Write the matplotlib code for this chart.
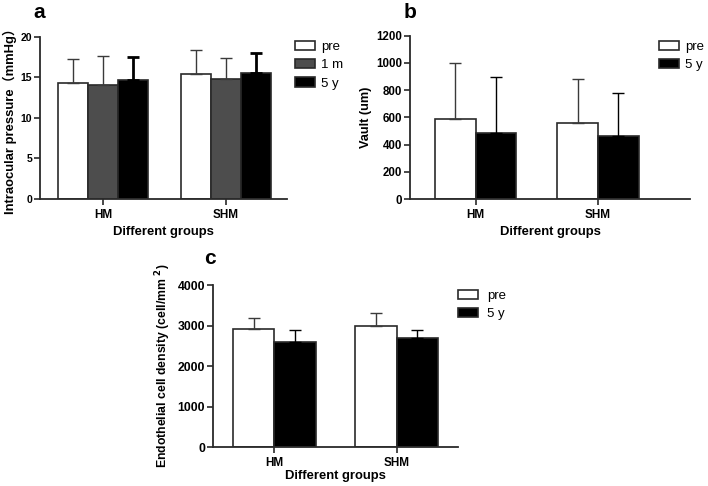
import matplotlib
matplotlib.use("Agg")
import matplotlib.pyplot as plt
import numpy as np

plt.rcParams['font.family'] = ['Liberation Sans', 'Noto Sans CJK SC', 'DejaVu Sans']
plt.rcParams['font.weight'] = 'bold'
plt.rcParams['mathtext.default'] = 'bf'

groups = ["HM", "SHM"]

# Panel a: intraocular pressure
iop_series = ["pre", "1 m", "5 y"]
iop_mean = {"pre": [14.3, 15.4], "1 m": [14.1, 14.8], "5 y": [14.65, 15.5]}
iop_sd = {"pre": [2.95, 3.0], "1 m": [3.5, 2.6], "5 y": [2.85, 2.45]}
iop_ticks = [0, 5, 10, 15, 20]

# Panel b: vault
vault_series = ["pre", "5 y"]
vault_mean = {"pre": [585, 561], "5 y": [482, 465]}
vault_sd = {"pre": [416, 323], "5 y": [412, 312]}
vault_ticks = [0, 200, 400, 600, 800, 1000, 1200]

# Panel c: endothelial cell density
ecd_series = ["pre", "5 y"]
ecd_mean = {"pre": [2909, 2997], "5 y": [2588, 2687]}
ecd_sd = {"pre": [286, 306], "5 y": [296, 204]}
ecd_ticks = [0, 1000, 2000, 3000, 4000]

colors = {"pre": "#ffffff", "1 m": "#4d4d4d", "5 y": "#000000"}
errcol = {"pre": "#3a3a3a", "1 m": "#3a3a3a", "5 y": "#000000"}

fig = plt.figure(figsize=(7.08, 4.86), dpi=100)
W, H = 708, 486

def add_ax(left, top, right, bottom):
    return fig.add_axes([left / W, 1 - bottom / H, (right - left) / W, (bottom - top) / H])

def draw(ax, series, mean, sd, width, ticks, xlim, ylabel, ticksize, labsize, thick5y, xlpad):
    x = np.arange(len(groups))
    n = len(series)
    handles = []
    for i, s in enumerate(series):
        off = (i - (n - 1) / 2) * width
        b = ax.bar(x + off, mean[s], width, color=colors[s], edgecolor="#2a2a2a",
                   linewidth=1.2, zorder=2, label=s)
        lw = 2.0 if (thick5y and s == "5 y") else 1.0
        ax.errorbar(x + off, mean[s], yerr=[np.zeros(len(groups)), sd[s]], fmt="none",
                    ecolor=errcol[s], elinewidth=lw, capsize=4.3,
                    capthick=lw, zorder=3)
        handles.append(b)
    ax.set_xlim(*xlim)
    ax.set_ylim(ticks[0], ticks[-1])
    ax.set_yticks(ticks)
    ax.set_xticks(x)
    ax.set_xticklabels(groups)
    for sp in ["top", "right"]:
        ax.spines[sp].set_visible(False)
    for sp in ["left", "bottom"]:
        ax.spines[sp].set_linewidth(1.3)
        ax.spines[sp].set_color("#2a2a2a")
    ax.tick_params(axis="both", length=4, width=1.2, color="#2a2a2a", labelsize=ticksize, pad=1.5)
    ax.tick_params(axis="x", labelsize=8.5, pad=3)
    for t in ax.get_xticklabels() + ax.get_yticklabels():
        t.set_fontweight("bold")
    ax.set_xlabel("Different groups", fontsize=9.4, fontweight="bold", labelpad=xlpad)
    ax.set_ylabel(ylabel, fontsize=labsize, fontweight="bold", labelpad=3)
    return handles

def legend(handles, labels, x, y, pad):
    leg = fig.legend(handles, labels, loc="upper left", bbox_to_anchor=(x / W, 1 - y / H),
                     frameon=False, fontsize=9.5, handlelength=1.5, handleheight=0.7,
                     handletextpad=pad, labelspacing=0.45, borderpad=0, borderaxespad=0)
    for t in leg.get_texts():
        t.set_fontweight("normal")

axa = add_ax(40, 36.7, 287, 199)
ha = draw(axa, iop_series, iop_mean, iop_sd, 0.244, iop_ticks, (-0.512, 1.496),
          "Intraocular pressure（mmHg）", 7.5, 9.4, True, 4)
legend(ha, iop_series, 295, 41, 0.5)

axb = add_ax(410, 35.7, 690, 199)
hb = draw(axb, vault_series, vault_mean, vault_sd, 0.333, vault_ticks, (-0.537, 1.752),
          "Vault (um)", 8.3, 9.2, False, 4)
legend(hb, vault_series, 659, 41, 0.45)

axc = add_ax(212.7, 285, 458, 447.3)
hc = draw(axc, ecd_series, ecd_mean, ecd_sd, 0.337, ecd_ticks, (-0.503, 1.501),
          r"Endothelial cell density (cell/mm $^{2}$)", 8.8, 8.8, False, 0.5)
legend(hc, ecd_series, 458, 290, 0.7)

fig.text(33 / W, 1 - 3 / H, "a", fontsize=15, fontweight="bold", va="top", ha="left")
fig.text(404 / W, 1 - 3 / H, "b", fontsize=15, fontweight="bold", va="top", ha="left")
fig.text(204 / W, 1 - 249 / H, "c", fontsize=15, fontweight="bold", va="top", ha="left")

fig.savefig("out.png", dpi=100, facecolor="white")
